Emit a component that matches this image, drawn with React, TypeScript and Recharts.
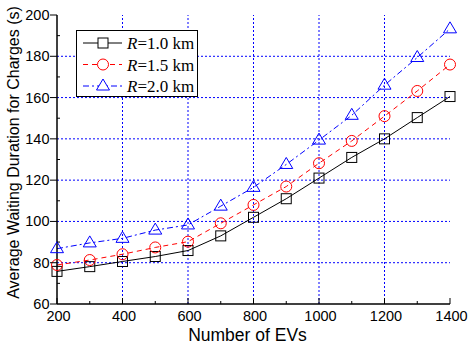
import React from 'react';
import { LineChart, Line, XAxis, YAxis, ReferenceLine, Label } from 'recharts';

const evCounts = [200, 300, 400, 500, 600, 700, 800, 900, 1000, 1100, 1200, 1300, 1400];
const waitR10 = [75.8, 78.1, 80.6, 83, 85.9, 93, 102, 111, 121, 131, 140, 150.3, 160.5];
const waitR15 = [78.9, 81.3, 84.1, 87.4, 90.2, 99.1, 108, 116.9, 128.2, 139, 151, 163.2, 176];
const waitR20 = [86.8, 89.6, 91.8, 95.8, 98.3, 107.4, 116.5, 127.6, 139.4, 151.4, 166, 179.4, 193.3];

const xTicks = [200, 300, 400, 500, 600, 700, 800, 900, 1000, 1100, 1200, 1300, 1400];
const xMajor = [200, 400, 600, 800, 1000, 1200, 1400];
const xGrid = [400, 600, 800, 1000, 1200];
const yTicks = [60, 70, 80, 90, 100, 110, 120, 130, 140, 150, 160, 170, 180, 190, 200];
const yMajor = [60, 80, 100, 120, 140, 160, 180, 200];
const yGrid = [80, 100, 120, 140, 160, 180];

const seriesNames = ['R=1.0 km', 'R=1.5 km', 'R=2.0 km'];

const data = evCounts.map((n, i) => ({ n, a: waitR10[i], b: waitR15[i], c: waitR20[i] }));

const FONT = 'Arial, "Liberation Sans", sans-serif';

const BottomTick = (props: any) => {
  const { x, y, payload } = props;
  const major = xMajor.includes(payload.value);
  return (
    <g>
      <line x1={x} x2={x} y1={y} y2={major ? y - 6 : y - 3} stroke="#000" strokeWidth={1} />
      {major && (
        <text x={x + 1.5} y={y + 17} textAnchor="middle" fontSize={14.5} fontFamily={FONT} fill="#000">
          {payload.value}
        </text>
      )}
    </g>
  );
};

const TopTick = (props: any) => {
  const { x, y, payload } = props;
  const major = xMajor.includes(payload.value);
  return <line x1={x} x2={x} y1={y} y2={major ? y + 6 : y + 3} stroke="#000" strokeWidth={1} />;
};

const LeftTick = (props: any) => {
  const { x, y, payload } = props;
  const major = yMajor.includes(payload.value);
  return (
    <g>
      {major ? (
        <line x1={x - 7} x2={x} y1={y} y2={y} stroke="#000" strokeWidth={1} />
      ) : (
        <line x1={x} x2={x + 3} y1={y} y2={y} stroke="#000" strokeWidth={1} />
      )}
      {major && (
        <text x={x - 7.5} y={y + 5} textAnchor="end" fontSize={14.5} fontFamily={FONT} fill="#000">
          {payload.value}
        </text>
      )}
    </g>
  );
};

const RightTick = (props: any) => {
  const { x, y, payload } = props;
  const major = yMajor.includes(payload.value);
  return <line x1={x} x2={major ? x - 6 : x - 3} y1={y} y2={y} stroke="#000" strokeWidth={1} />;
};

const SquareDot = (props: any) => {
  const { cx, cy, index } = props;
  return <rect key={`s${index}`} x={cx - 5} y={cy - 5} width={10} height={10} fill="none" stroke="#000" strokeWidth={1} />;
};
const CircleDot = (props: any) => {
  const { cx, cy, index } = props;
  return <circle key={`c${index}`} cx={cx} cy={cy} r={5.5} fill="none" stroke="#ff0000" strokeWidth={1} />;
};
const TriDot = (props: any) => {
  const { cx, cy, index } = props;
  return (
    <polygon
      key={`t${index}`}
      points={`${cx},${cy - 7} ${cx - 6.5},${cy + 4} ${cx + 6.5},${cy + 4}`}
      fill="none"
      stroke="#0000ff"
      strokeWidth={1}
    />
  );
};

const legendItems = [
  { name: seriesNames[0], color: '#000', dash: undefined, marker: 'square' },
  { name: seriesNames[1], color: '#ff0000', dash: '5 4', marker: 'circle' },
  { name: seriesNames[2], color: '#0000ff', dash: '6 3 2 3', marker: 'tri' },
];

const LegendBox = () => (
  <svg width={122} height={67} style={{ position: 'absolute', left: 76, top: 30 }}>
    <rect x={0.5} y={0.5} width={121} height={66} fill="#fff" stroke="#000" strokeWidth={1} />
    {legendItems.map((it, i) => {
      const cy = 13 + i * 21.5;
      const mx = 27;
      const parts = it.name.split('=');
      return (
        <g key={it.name}>
          <line x1={7} x2={46} y1={cy} y2={cy} stroke={it.color} strokeWidth={1} strokeDasharray={it.dash} />
          {it.marker === 'square' && (
            <rect x={mx - 5} y={cy - 5} width={10} height={10} fill="#fff" stroke={it.color} />
          )}
          {it.marker === 'circle' && <circle cx={mx} cy={cy} r={5.5} fill="#fff" stroke={it.color} />}
          {it.marker === 'tri' && (
            <polygon points={`${mx},${cy - 7} ${mx - 6.5},${cy + 4} ${mx + 6.5},${cy + 4}`} fill="#fff" stroke={it.color} />
          )}
          <text x={51} y={cy + 6} fontSize={17} fontFamily='"Liberation Serif", "Times New Roman", serif' fill="#000">
            <tspan fontStyle="italic">{parts[0]}</tspan>
            <tspan>={parts[1]}</tspan>
          </text>
        </g>
      );
    })}
  </svg>
);

export default function App() {
  return (
    <div style={{ position: 'absolute', left: 0, top: 0, width: 470, height: 350, background: '#fff' }}>
      <LineChart width={470} height={350} data={data} margin={{ top: 15, right: 20, left: 0, bottom: 0 }}>
        <XAxis
          xAxisId="bottom"
          dataKey="n"
          type="number"
          domain={[200, 1400]}
          ticks={xTicks}
          interval={0}
          tickSize={0}
          tickMargin={0}
          tick={BottomTick}
          tickLine={false}
          axisLine={{ stroke: '#000', strokeWidth: 1.5 }}
          height={46}
        >
          <Label
            content={(p: any) => {
              const vb = p.viewBox;
              return (
                <text x={vb.x + vb.width / 2 - 6} y={341} textAnchor="middle" fontSize={17.5} fontFamily={FONT} fill="#000">
                  Number of EVs
                </text>
              );
            }}
          />
        </XAxis>
        <XAxis
          xAxisId="top"
          orientation="top"
          dataKey="n"
          type="number"
          domain={[200, 1400]}
          ticks={xTicks}
          interval={0}
          tickSize={0}
          tickMargin={0}
          tick={TopTick}
          tickLine={false}
          axisLine={{ stroke: '#000', strokeWidth: 1.5 }}
          height={0}
        />
        <YAxis
          yAxisId="left"
          type="number"
          domain={[60, 200]}
          ticks={yTicks}
          interval={0}
          tickSize={0}
          tickMargin={0}
          tick={LeftTick}
          tickLine={false}
          axisLine={{ stroke: '#000', strokeWidth: 1.5 }}
          width={57}
        >
          <Label
            content={(p: any) => {
              const vb = p.viewBox;
              const cy = vb.y + vb.height / 2 - 7;
              return (
                <text
                  x={13}
                  y={cy}
                  transform={`rotate(-90, 13, ${cy})`}
                  textAnchor="middle"
                  dominantBaseline="central"
                  fontSize={16}
                  fontFamily={FONT}
                  fill="#000"
                >
                  Average Waiting Duration for Charges (s)
                </text>
              );
            }}
          />
        </YAxis>
        <YAxis
          yAxisId="right"
          orientation="right"
          type="number"
          domain={[60, 200]}
          ticks={yTicks}
          interval={0}
          tickSize={0}
          tickMargin={0}
          tick={RightTick}
          tickLine={false}
          axisLine={{ stroke: '#000', strokeWidth: 1.5 }}
          width={0}
        />
        {xGrid.map((v) => (
          <ReferenceLine key={`gx${v}`} xAxisId="bottom" yAxisId="left" x={v} stroke="#0000ff" strokeDasharray="2 2" strokeWidth={1} />
        ))}
        {yGrid.map((v) => (
          <ReferenceLine key={`gy${v}`} xAxisId="bottom" yAxisId="left" y={v} stroke="#0000ff" strokeDasharray="2 2" strokeWidth={1} />
        ))}
        <Line xAxisId="bottom" yAxisId="left" dataKey="a" name={seriesNames[0]} stroke="#000" strokeWidth={1} dot={SquareDot} isAnimationActive={false} />
        <Line xAxisId="bottom" yAxisId="left" dataKey="b" name={seriesNames[1]} stroke="#ff0000" strokeWidth={1} strokeDasharray="5 4" dot={CircleDot} isAnimationActive={false} />
        <Line xAxisId="bottom" yAxisId="left" dataKey="c" name={seriesNames[2]} stroke="#0000ff" strokeWidth={1} strokeDasharray="6 3 2 3" dot={TriDot} isAnimationActive={false} />
      </LineChart>
      <LegendBox />
    </div>
  );
}
